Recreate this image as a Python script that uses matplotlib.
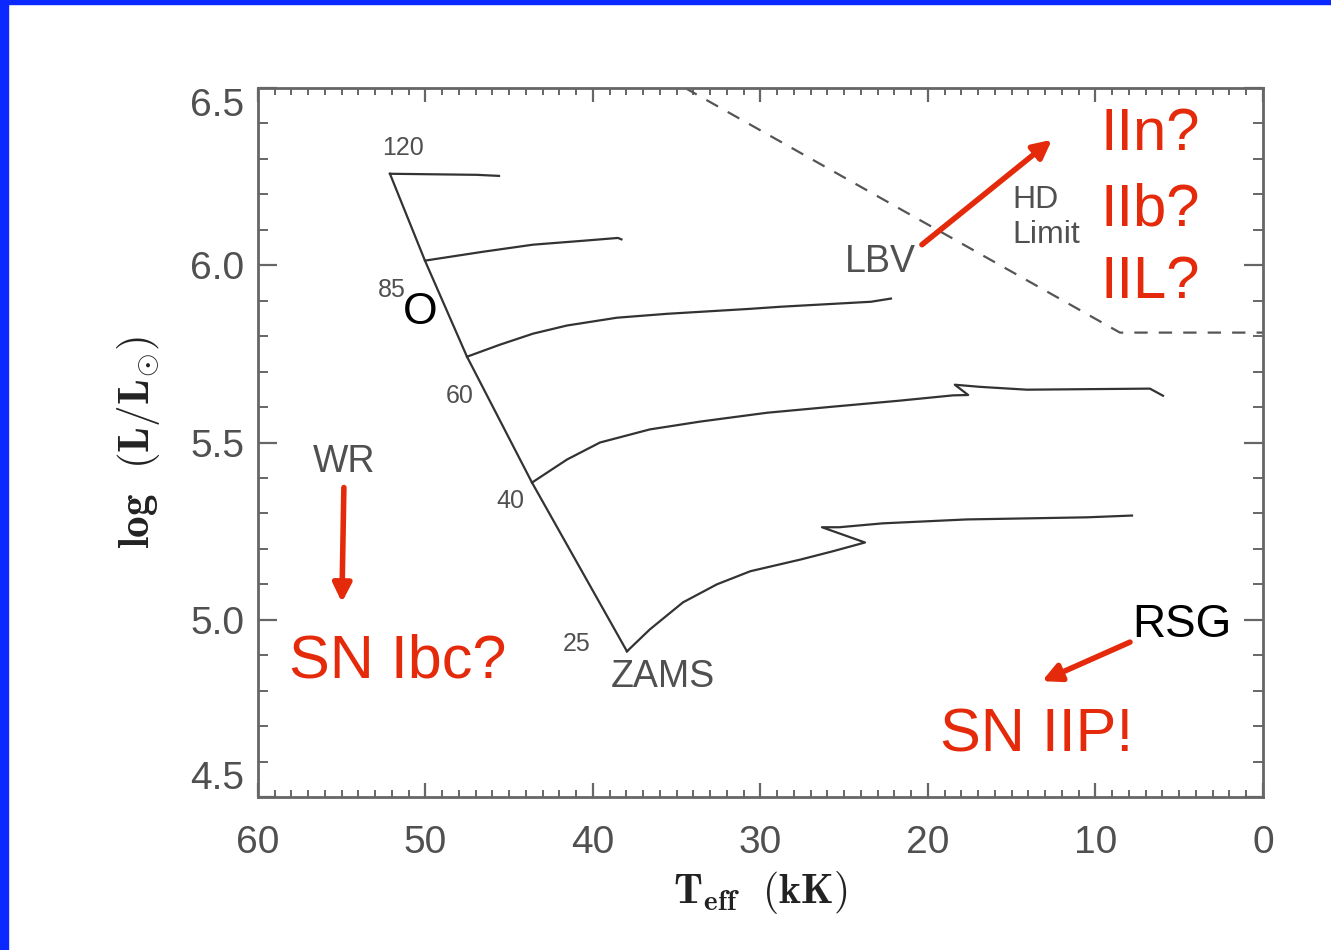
import matplotlib
matplotlib.use("Agg")
import matplotlib.pyplot as plt
from matplotlib.ticker import MultipleLocator
from matplotlib.patches import Rectangle

plt.rcParams["mathtext.fontset"] = "cm"

# ZAMS and evolutionary tracks: Teff (kK) vs log L/Lsun
zams_teff = [52.12, 50.03, 47.52, 43.64, 37.97]
zams_logl = [6.258, 6.013, 5.742, 5.387, 4.911]

track120_teff = [52.12, 46.93, 45.61]
track120_logl = [6.258, 6.255, 6.252]

track85_teff = [50.03, 46.57, 43.58, 40.6, 38.51, 38.3]
track85_logl = [6.013, 6.038, 6.058, 6.069, 6.077, 6.073]

track60_teff = [47.52, 45.55, 43.58, 41.55, 38.57, 35.58, 30.63, 28.78, 23.40, 22.21]
track60_logl = [5.742, 5.776, 5.807, 5.830, 5.852, 5.863, 5.877, 5.883, 5.897, 5.906]

track40_teff = [43.64, 41.55, 39.58, 36.6, 33.6, 29.6, 25.7, 21.7, 18.5,
                17.6, 18.4, 16.9, 14.1, 6.75, 5.97]
track40_logl = [5.387, 5.452, 5.50, 5.537, 5.559, 5.584, 5.601, 5.618, 5.633,
                5.634, 5.663, 5.657, 5.649, 5.652, 5.632]

track25_teff = [37.97, 36.6, 34.63, 32.6, 30.6, 27.6, 25.7, 23.76, 26.33, 25.3,
                22.7, 17.7, 10.5, 7.82]
track25_logl = [4.911, 4.973, 5.049, 5.100, 5.137, 5.170, 5.193, 5.218, 5.261, 5.261,
                5.272, 5.283, 5.289, 5.294]

# Humphreys-Davidson limit
hd_teff = [34.5, 8.54, 0.0]
hd_logl = [6.5, 5.81, 5.81]

mass_labels = ["120", "85", "60", "40", "25"]

GRAY = "#505050"
LINE = "#333333"
RED = "#e42a0a"
BLUE = "#0a28ff"
SANS = "Liberation Sans"

fig = plt.figure(figsize=(13.31, 9.5), dpi=100)
fig.patches.append(Rectangle((0, 0), 8 / 1331, 1, transform=fig.transFigure,
                             color=BLUE, zorder=0))
fig.patches.append(Rectangle((0, 1 - 4 / 950), 1, 4 / 950, transform=fig.transFigure,
                             color=BLUE, zorder=0))

ax = fig.add_axes([0.1938, 0.161, 0.7551, 0.7464])
ax.set_xlim(60, 0)
ax.set_ylim(4.5, 6.5)

lw = 1.6
ax.plot(zams_teff, zams_logl, color=LINE, lw=lw)
ax.plot(track120_teff, track120_logl, color=LINE, lw=lw)
ax.plot(track85_teff, track85_logl, color=LINE, lw=lw)
ax.plot(track60_teff, track60_logl, color=LINE, lw=lw)
ax.plot(track40_teff, track40_logl, color=LINE, lw=lw)
ax.plot(track25_teff, track25_logl, color=LINE, lw=lw)
ax.plot(hd_teff, hd_logl, color="#555555", lw=1.6, ls=(0, (6, 5)))

# axes styling
for s in ax.spines.values():
    s.set_color("#666666")
    s.set_linewidth(2)
ax.xaxis.set_major_locator(MultipleLocator(10))
ax.xaxis.set_minor_locator(MultipleLocator(1))
ax.yaxis.set_major_locator(MultipleLocator(0.5))
ax.yaxis.set_minor_locator(MultipleLocator(0.1))
ax.tick_params(which="both", direction="in", top=True, right=True,
               color="#666666", labelcolor=GRAY)
ax.tick_params(axis="x", which="major", length=10, width=1.6, pad=20, labelsize=28)
ax.tick_params(axis="x", which="minor", length=5, width=1.4)
ax.tick_params(axis="y", which="major", length=14, width=1.6, pad=10, labelsize=28)
ax.tick_params(axis="y", which="minor", length=7, width=1.4)
ax.set_xticks([60, 50, 40, 30, 20, 10, 0])
ax.set_xticklabels(["60", "50", "40", "30", "20", "10", "0"], fontfamily=SANS)
ax.set_yticks([4.5, 5.0, 5.5, 6.0, 6.5])
ax.set_yticklabels(["4.5", "5.0", "5.5", "6.0", "6.5"], fontfamily=SANS)
ylabs = ax.get_yticklabels()
ylabs[0].set_va("bottom")
ylabs[-1].set_va("top")

ax.set_xlabel(r"$\mathbf{T_{eff}\ \ (kK)}$", fontsize=30, color="#222222", labelpad=6)
ax.set_ylabel(r"$\mathbf{log\ \ (L/L_{\odot})}$", fontsize=31, color="#222222", labelpad=20)

# mass labels on the ZAMS
mass_pos = [(51.34, 6.331), (52.0, 5.931), (47.94, 5.632), (44.96, 5.334), (40.96, 4.931)]
for lab, (x, y) in zip(mass_labels, mass_pos):
    ax.text(x, y, lab, color=GRAY, fontsize=18, fontfamily=SANS, ha="center", va="center")

ax.text(50.33, 5.866, "O", color="black", fontsize=32, fontfamily=SANS, ha="center", va="center")
ax.text(35.82, 4.838, "ZAMS", color=GRAY, fontsize=27, fontfamily=SANS, ha="center", va="center")
ax.text(22.87, 6.01, "LBV", color=GRAY, fontsize=27, fontfamily=SANS, ha="center", va="center")
ax.text(54.87, 5.444, "WR", color=GRAY, fontsize=27, fontfamily=SANS, ha="center", va="center")
ax.text(14.99, 6.185, "HD", color=GRAY, fontsize=23, fontfamily=SANS, ha="left", va="center")
ax.text(14.99, 6.086, "Limit", color=GRAY, fontsize=23, fontfamily=SANS, ha="left", va="center")

# supernova types
ax.text(9.73, 6.368, "IIn?", color=RED, fontsize=43, fontfamily=SANS, ha="left", va="center")
ax.text(9.73, 6.156, "IIb?", color=RED, fontsize=43, fontfamily=SANS, ha="left", va="center")
ax.text(9.73, 5.951, "IIL?", color=RED, fontsize=43, fontfamily=SANS, ha="left", va="center")
ax.text(51.64, 4.88, "SN Ibc?", color=RED, fontsize=44, fontfamily=SANS, ha="center", va="center")
ax.text(13.49, 4.672, "SN IIP!", color=RED, fontsize=44, fontfamily=SANS, ha="center", va="center")
ax.text(4.84, 4.985, "RSG", color="black", fontsize=33, fontfamily=SANS, ha="center", va="center")

arrow = dict(arrowstyle="-|>,head_length=1.1,head_width=0.55", color=RED, lw=4,
             shrinkA=0, shrinkB=0)
ax.annotate("", xy=(54.99, 5.049), xytext=(54.87, 5.373), arrowprops=arrow)
ax.annotate("", xy=(12.6, 6.354), xytext=(20.36, 6.058), arrowprops=arrow)
ax.annotate("", xy=(13.19, 4.827), xytext=(7.94, 4.937), arrowprops=arrow)

fig.savefig("out.png", dpi=100, facecolor="white")
